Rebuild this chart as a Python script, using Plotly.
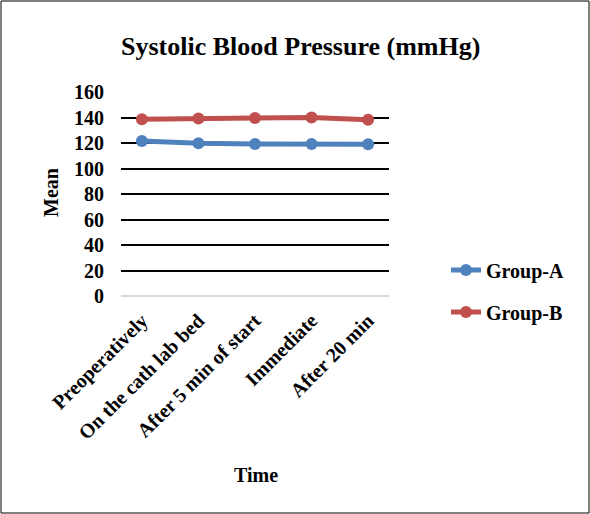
import plotly.graph_objects as go

categories = ["Preoperatively", "On the cath lab bed", "After 5 min of start", "Immediate", "After 20 min"]
group_a = [121.5, 119.8, 119.3, 119.2, 119.1]
group_b = [138.6, 139.3, 139.6, 140.0, 138.2]
y_ticks = [0, 20, 40, 60, 80, 100, 120, 140, 160]

W, H = 590, 514
L, R, T, B = 121, 389, 92, 296
pw, ph = R - L, B - T

def px(x):
    return (x - L) / pw

def py(y):
    return (B - y) / ph

FONT = "Liberation Serif"
BOLD = dict(family=FONT, size=20, color="black", weight="bold")

fig = go.Figure()
fig.add_trace(go.Scatter(x=categories, y=group_a, name="Group-A", mode="lines+markers",
                         line=dict(color="#4F81BD", width=5), marker=dict(size=12, color="#4F81BD"),
                         legend="legend", showlegend=True))
fig.add_trace(go.Scatter(x=categories, y=group_b, name="Group-B", mode="lines+markers",
                         line=dict(color="#C0504D", width=5), marker=dict(size=12, color="#C0504D"),
                         legend="legend2", showlegend=True))

legend_common = dict(font=BOLD, bgcolor="rgba(0,0,0,0)",
                     xanchor="left", yanchor="middle", itemwidth=30)

fig.update_layout(
    width=W, height=H,
    showlegend=True,
    margin=dict(l=L, r=W - R, t=T, b=H - B),
    paper_bgcolor="white", plot_bgcolor="white",
    font=BOLD,
    xaxis=dict(type="category", tickangle=-45, showgrid=False, zeroline=False, showline=False,
               tickfont=BOLD, ticks="", ticklabelstandoff=8),
    yaxis=dict(range=[0, 160], tickvals=y_ticks, showgrid=True, gridcolor="black", gridwidth=1.5,
               zeroline=True, zerolinecolor="#d9d9d9", zerolinewidth=1.5, showline=False,
               tickfont=BOLD, ticks="", ticklabelstandoff=16),
    legend=dict(x=px(446), y=py(270), **legend_common),
    legend2=dict(x=px(446), y=py(312), **legend_common),
    annotations=[
        dict(text="Systolic Blood Pressure (mmHg)", x=px(300), y=py(47), xref="paper", yref="paper",
             showarrow=False, font=dict(family=FONT, size=26, color="black", weight="bold"),
             xanchor="center", yanchor="middle"),
        dict(text="Mean", x=px(51), y=py(193), xref="paper", yref="paper", textangle=-90,
             showarrow=False, font=BOLD, xanchor="center", yanchor="middle"),
        dict(text="Time", x=px(256), y=py(475), xref="paper", yref="paper",
             showarrow=False, font=BOLD, xanchor="center", yanchor="middle"),
    ],
    shapes=[
        dict(type="rect", xref="paper", yref="paper", x0=px(1), x1=px(589), y0=py(1), y1=py(513),
             line=dict(color="black", width=1), fillcolor="rgba(0,0,0,0)", layer="below"),
    ],
)

fig.write_html("out.html", config={"displayModeBar": False},
               post_script="document.body.style.margin='0px';")
